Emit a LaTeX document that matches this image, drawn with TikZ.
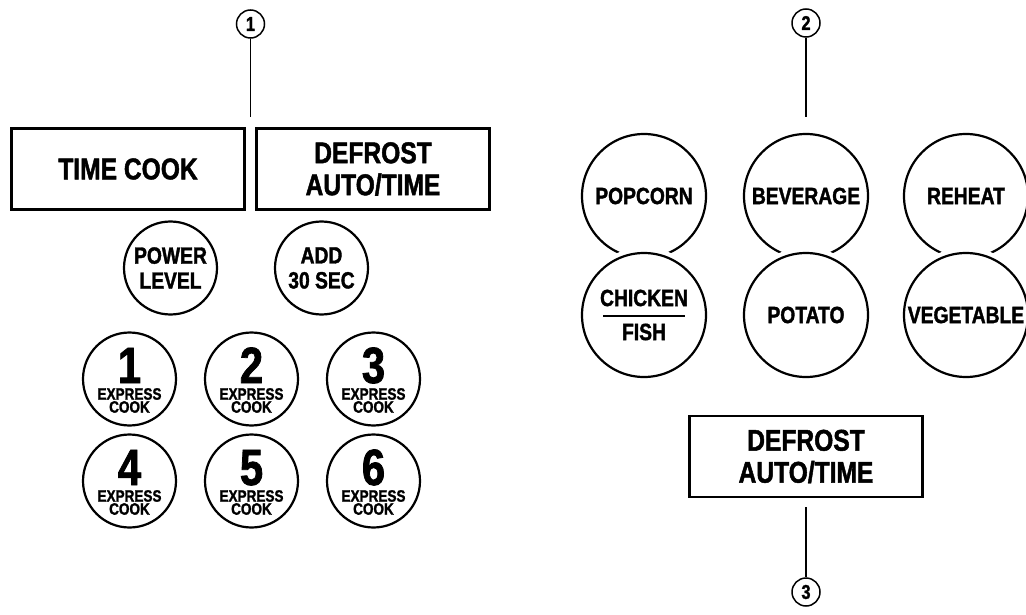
\documentclass[tikz,border=0pt]{standalone}
\usepackage{fontspec}
\usepackage{tikz}
\usetikzlibrary{calc}
\newfontfamily\panelfont[FakeStretch=0.82,FakeBold=1.5]{Liberation Sans}
\newcommand{\boxfont}{\panelfont\bfseries\fontsize{30}{32}\selectfont}
\newcommand{\keyfont}{\panelfont\bfseries\fontsize{23.5}{25}\selectfont}
\newcommand{\digitfont}{\panelfont\bfseries\fontsize{51}{51}\selectfont}
\newcommand{\expfont}{\panelfont\bfseries\fontsize{16.5}{13}\selectfont}
\newcommand{\callfont}{\panelfont\bfseries\fontsize{20}{20}\selectfont}

\begin{document}
\begin{tikzpicture}[x=1pt,y=-1pt,
	panel/.style={draw,line width=2.5pt,minimum width=233pt,minimum height=81pt,inner sep=0pt,align=center,font=\boxfont},
	key/.style={draw,circle,line width=2.2pt,minimum size=93pt,inner sep=0pt,align=center,font=\keyfont},
	bigkey/.style={key,minimum size=124pt},
	lowkey/.style={bigkey,preaction={draw=white,fill=white,line width=11pt}},
	callout/.style={draw,circle,line width=1.5pt,minimum size=28pt,inner sep=0pt,font=\callfont}]
		\useasboundingbox (0,0) rectangle (1026,615);
		% left panel
		\node[callout] (c1) at (250.5,24) {1};
		\node[panel] (timecook) at (128,169) {TIME COOK};
		\node[panel] (defrost) at (373,169) {DEFROST\\AUTO/TIME};
		\coordinate (gap) at ($(timecook.north east)!0.5!(defrost.north west)$);
		\draw[line width=1.5pt,shorten >=10pt] (c1) -- (gap);
		\node[key] (power) at (170.5,268) {POWER\\LEVEL};
		\node[key] (add) at (321.5,268) {ADD\\30 SEC};
		\foreach \n/\x/\y in {1/129.5/379,2/251.5/379,3/373.5/379,4/129.5/481,5/251.5/481,6/373.5/481} {
			\node[key] (express\n) at (\x,\y) {};
			\node[anchor=base,inner sep=0pt,font=\digitfont] at (\x,\y+4) {\n};
			\node[inner sep=0pt,align=center,font=\expfont] at (\x,\y+21.5) {EXPRESS\\COOK};
		}
		% right panel
		\node[callout] (c2) at (806,23) {2};
		\foreach \name/\x/\txt in {popcorn/644/POPCORN,beverage/806/BEVERAGE,reheat/966/REHEAT} {
			\node[bigkey] (\name) at (\x,196) {\txt};
		}
		\node[lowkey] (chicken) at (644,315) {CHICKEN\\[9pt]FISH};
		\draw[line width=2pt] ($(chicken.center)+(-41,1)$) -- ++(82,0);
		\node[lowkey] (potato) at (806,315) {POTATO};
		\node[lowkey] (vegetable) at (966,315) {VEGETABLE};
		\draw[line width=1.5pt,shorten >=16pt] (c2) -- (beverage);
		\node[panel] (defrost2) at (806,456.5) {DEFROST\\AUTO/TIME};
		\node[callout] (c3) at (806,592) {3};
		\draw[line width=1.5pt,shorten <=9pt] (defrost2) -- (c3);
\end{tikzpicture}
\end{document}
